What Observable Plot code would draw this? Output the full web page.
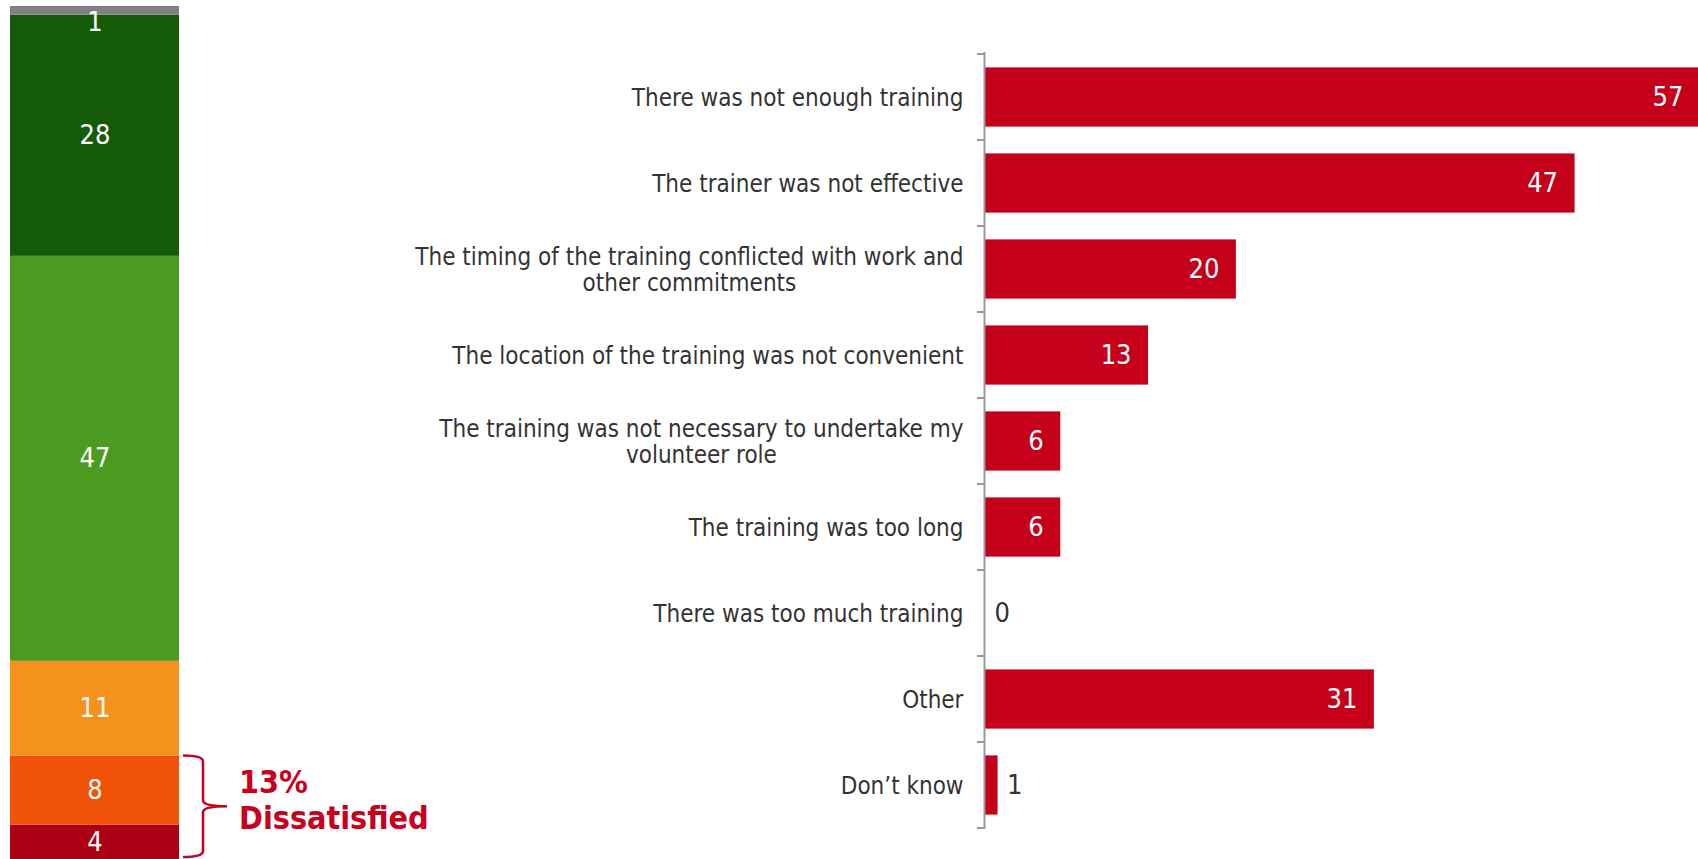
<!DOCTYPE html>
<html><head><meta charset="utf-8">
<script src="https://cdn.jsdelivr.net/npm/d3@7"></script>
<script src="https://cdn.jsdelivr.net/npm/@observablehq/plot@0.6"></script>
<style>
html,body{margin:0;padding:0;background:#fff;overflow:hidden;}
#chart{position:relative;width:1698px;height:859px;}
#left{position:absolute;left:0;top:0;}
#right{position:absolute;left:460px;top:0;}
</style></head><body>
<div id="chart"><div id="left"></div><div id="right"></div></div>
<script>
const FONT = "'DejaVu Sans Condensed', 'Liberation Sans', sans-serif";

// Overall satisfaction with training (stack order: bottom -> top)
const satisfactionLevels = ["Very dissatisfied", "Fairly dissatisfied", "Neither satisfied nor dissatisfied", "Fairly satisfied", "Very satisfied", "Don't know"];
const satisfactionValues = [4, 8, 11, 47, 28, 1];
const dissatisfiedLevels = ["Very dissatisfied", "Fairly dissatisfied"];
const dissatisfiedLabel = "13%";
const dissatisfiedText = "Dissatisfied";

// Reasons for dissatisfaction
const reasons = [
  "There was not enough training",
  "The trainer was not effective",
  "The timing of the training conflicted with work and\nother commitments",
  "The location of the training was not convenient",
  "The training was not necessary to undertake my\nvolunteer role",
  "The training was too long",
  "There was too much training",
  "Other",
  "Don\u2019t know"
];
const reasonValues = [57, 47, 20, 13, 6, 6, 0, 31, 1];

const satData = satisfactionLevels.map((level, i) => ({level, value: satisfactionValues[i], group: "All"}));
const reasonData = reasons.map((reason, i) => ({reason, value: reasonValues[i]}));
const total = d3.sum(satisfactionValues);
const dissatisfiedSum = d3.sum(satData.filter(d => dissatisfiedLevels.includes(d.level)), d => d.value);

const RED = "#c8001e";

function bracketMark(index, scales) {
  const x = scales.x, y = scales.y;
  const xEnd = x("All") + x.bandwidth();
  const x0 = xEnd + 4, xv = xEnd + 24, xp = xEnd + 48;
  const yT = y(dissatisfiedSum), yB = y(0) - 2, yM = (yT + yB) / 2;
  const r = 6;
  const d = `M${x0},${yT} Q${xv},${yT} ${xv},${yT + r} L${xv},${yM - r} Q${xv},${yM} ${xp},${yM} Q${xv},${yM} ${xv},${yM + r} L${xv},${yB - r} Q${xv},${yB} ${x0},${yB}`;
  const g = d3.create("svg:g");
  g.append("path").attr("d", d).attr("fill", "none").attr("stroke", RED).attr("stroke-width", 2.5);
  return g.node();
}

const left = Plot.plot({
  width: 460, height: 859,
  marginTop: 6, marginBottom: 0, marginLeft: 10, marginRight: 281,
  style: {fontFamily: FONT, background: "transparent", overflow: "visible"},
  x: {type: "band", domain: ["All"], padding: 0, axis: null},
  y: {domain: [0, total], axis: null},
  color: {domain: satisfactionLevels, range: ["#ae0014", "#f05208", "#f5921e", "#4a9b1f", "#155a06", "#808080"]},
  marks: [
    Plot.barY(satData, Plot.stackY({x: "group", y: "value", fill: "level"})),
    Plot.text(satData, Plot.stackY({x: "group", y: "value", text: d => d.value >= 3 ? String(d.value) : "", fill: "white", fontSize: 27})),
    Plot.text(satData, Plot.stackY({x: "group", y: "value", text: d => d.value < 3 ? String(d.value) : "", fill: "white", fontSize: 27, dy: 12})),
    bracketMark,
    Plot.text([dissatisfiedSum / 2], {x: () => "All", y: d => d, text: () => dissatisfiedLabel + "\n" + dissatisfiedText, textAnchor: "start", dx: 144, dy: -8, fill: RED, fontSize: 32, fontWeight: "bold", lineHeight: 1.13})
  ]
});
document.getElementById("left").appendChild(left);

// text measurement for label alignment
const ctx = document.createElement("canvas").getContext("2d");
ctx.font = `24px ${FONT}`;
const labelWidth = s => d3.max(s.split("\n"), line => ctx.measureText(line).width);

function boundaryTicks(index, scales) {
  const y = scales.y, bw = y.bandwidth();
  const x0 = scales.x(0) - 1;
  const ys = reasons.map(r => y(r)).concat([y(reasons[reasons.length - 1]) + bw]);
  const g = d3.create("svg:g").attr("stroke", "#999").attr("stroke-width", 2);
  for (const yy of ys) g.append("line").attr("x1", x0 - 7).attr("x2", x0).attr("y1", yy).attr("y2", yy);
  return g.node();
}

const right = Plot.plot({
  width: 1238, height: 859,
  marginTop: 52, marginBottom: 30, marginLeft: 525, marginRight: 0,
  style: {fontFamily: FONT, background: "transparent", overflow: "visible"},
  x: {domain: [0, 57], range: [525, 1240], axis: null},
  y: {domain: reasons, padding: 0, axis: null},
  marks: [
    Plot.barX(reasonData, {x: "value", y: "reason", fill: "#c5001a", insetTop: 13.4, insetBottom: 13.4}),
    Plot.text(reasonData, {x: "value", y: "reason", text: d => d.value > 2 ? String(d.value) : "", textAnchor: "end", dx: -17, fill: "white", fontSize: 27}),
    Plot.text(reasonData, {x: "value", y: "reason", text: d => d.value <= 2 ? String(d.value) : "", textAnchor: "start", dx: 9, fill: "#333", fontSize: 27}),
    Plot.ruleX([0], {stroke: "#999", strokeWidth: 2, dx: -1}),
    boundaryTicks,
    ...reasons.map(r => Plot.text([r], {x: () => 0, y: d => d, text: d => d, textAnchor: "middle", dx: -22 - labelWidth(r) / 2, lineHeight: 1.08, fontSize: 24, fill: "#333"}))
  ]
});
document.getElementById("right").appendChild(right);
</script>
</body></html>
